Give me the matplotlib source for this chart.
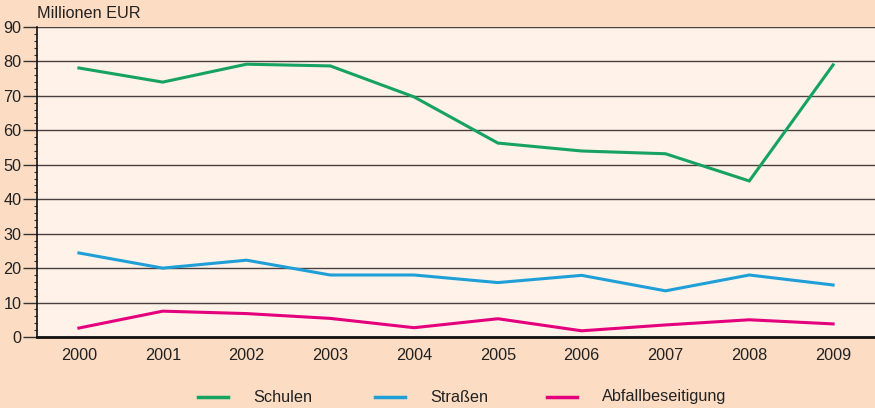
import matplotlib
matplotlib.use("Agg")
import matplotlib.pyplot as plt
from matplotlib.ticker import MultipleLocator
from matplotlib.lines import Line2D

plt.rcParams['font.family'] = ['Liberation Sans', 'DejaVu Sans']

years = ["2000", "2001", "2002", "2003", "2004", "2005", "2006", "2007", "2008", "2009"]
schulen = [78.1, 74.0, 79.2, 78.7, 69.7, 56.3, 54.0, 53.2, 45.3, 79.0]
strassen = [24.4, 20.0, 22.3, 18.0, 18.0, 15.8, 17.9, 13.4, 18.0, 15.1]
abfall = [2.6, 7.5, 6.8, 5.4, 2.7, 5.3, 1.8, 3.5, 5.0, 3.8]
series_names = ["Schulen", "Straßen", "Abfallbeseitigung"]
colors = ["#16a260", "#1f9fd8", "#e4007c"]

W, H = 875, 408
fig = plt.figure(figsize=(W / 100, H / 100), dpi=100)
fig.patch.set_facecolor("#fcdcc3")
ax = fig.add_axes([37 / W, 1 - 337 / H, 838 / W, 310 / H])
ax.set_facecolor("#fef2e9")

x = list(range(len(years)))
for vals, c in zip([schulen, strassen, abfall], colors):
    ax.plot(x, vals, color=c, lw=2.2, solid_joinstyle='miter', zorder=3)

ax.set_xlim(-0.5, 9.5)
ax.set_ylim(0, 90)
ax.set_xticks(x)
ax.set_xticklabels(years)
ax.yaxis.set_major_locator(MultipleLocator(10))
ax.yaxis.set_minor_locator(MultipleLocator(2))
ax.grid(axis='y', which='major', color='#4a4040', lw=1.0, zorder=1)
fs = 11.7
ax.tick_params(axis='y', which='major', length=10, width=1, color='#333333',
               labelsize=fs, pad=1, labelcolor='#222222')
ax.tick_params(axis='y', which='minor', length=2.5, width=0.8, color='#333333')
ax.tick_params(axis='x', which='both', length=0, labelsize=fs, pad=8, labelcolor='#222222')
for s in ['top', 'right']:
    ax.spines[s].set_visible(False)
ax.spines['left'].set_color('#111111')
ax.spines['left'].set_linewidth(1.2)
ax.spines['bottom'].set_color('#111111')
ax.spines['bottom'].set_linewidth(2)
ax.spines['bottom'].set_zorder(4)

fig.text(37 / W, 1 - 14 / H, "Millionen EUR", fontsize=fs, color='#222222',
         va='center', ha='left')

# legend (manual placement)
leg_y = 1 - 397 / H
line_x = [198, 375, 547]
text_x = [253, 430, 602]
for lx, tx, c, name in zip(line_x, text_x, colors, series_names):
    fig.add_artist(Line2D([lx / W, (lx + 30) / W], [leg_y, leg_y], color=c, lw=2.5,
                          transform=fig.transFigure))
    fig.text(tx / W, leg_y, name, fontsize=fs, color='#222222', va='center', ha='left')

fig.savefig("out.png", dpi=100, facecolor=fig.get_facecolor())
